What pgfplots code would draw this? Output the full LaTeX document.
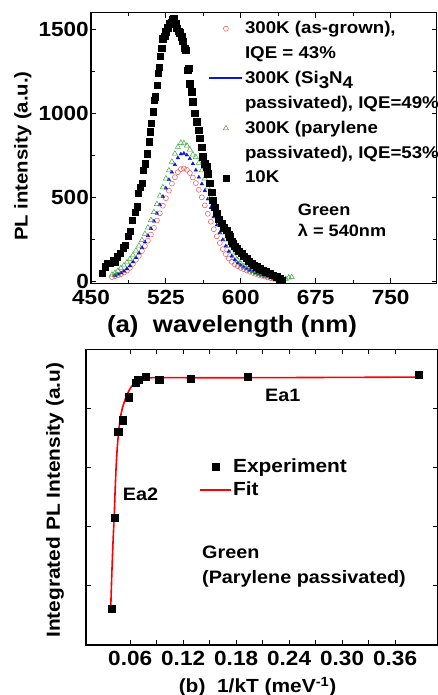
\documentclass[border=0pt]{standalone}
\usepackage{fontspec}
\setmainfont{Liberation Sans}[FakeStretch=1.1]
\usepackage{pgfplots}
\pgfplotsset{compat=1.18}
\definecolor{redc}{RGB}{235,85,85}
\definecolor{grnc}{RGB}{60,165,60}
\definecolor{bluc}{RGB}{10,20,225}

\begin{document}
\bfseries\fontsize{18}{21}\selectfont
\begin{tikzpicture}[x=1pt,y=1pt]
\path[use as bounding box] (0,0) rectangle (438,695);
% (a) PL spectra
\begin{axis}[
    at={(91pt,411.7pt)}, anchor=south west,
    scale only axis, width=345.5pt, height=270.6pt,
    xmin=450, xmax=796, ymin=-12, ymax=1600,
    xtick={450,525,600,675,750}, ytick={0,500,1000,1500},
    minor x tick num=1, minor y tick num=1,
    tick align=inside, major tick length=5pt, minor tick length=3.5pt,
    axis line style={line width=1.3pt},
    every tick/.style={black, line width=1pt},
    /pgf/number format/assume math mode=true,
    /pgf/number format/1000 sep={},
    tick label style={font=\bfseries\fontsize{20.5}{23}\selectfont},
    yticklabel style={xshift=4pt},
    xticklabel style={yshift=-1pt},
    xlabel={(a)\ \ wavelength (nm)},
    ylabel={PL intensity (a.u.)},
    every axis x label/.style={at={(axis description cs:0.408,-0.159)}, anchor=center,
                               font=\bfseries\fontsize{23.5}{26}\selectfont},
    every axis y label/.style={at={(axis description cs:-0.197,0.470)}, anchor=center, rotate=90,
                               font=\bfseries\fontsize{18.5}{21}\selectfont},
    legend cell align=left,
    legend style={draw=none, fill=none, at={(rel axis cs:0.339,0.975)}, anchor=north west,
                  font=\bfseries\fontsize{17}{20}\selectfont, row sep=7pt, inner sep=0pt,
                  nodes={inner sep=1.5pt}},
    legend image code/.code={\draw[mark repeat=2,mark phase=2,#1] plot coordinates {(0pt,0pt) (16.5pt,0pt) (33pt,0pt)};},
  ]
\addplot[only marks, mark=o, redc, mark size=2.5pt, mark options={line width=0.5pt}] coordinates {
(471,25) (474,30) (477,36) (480,43) (483,52) (486,64) (489,80) (492,104) (495,128) (498,152)
(501,180) (504,210) (507,242) (510,278) (513,318) (516,362) (519,405) (522,450) (525,495) (528,540)
(531,582) (534,620) (537,650) (540,668) (543,672) (546,664) (549,645) (552,618) (555,585) (558,545)
(561,500) (564,452) (567,402) (570,355) (573,310) (576,268) (579,228) (582,192) (585,162) (588,136)
(591,116) (594,101) (597,90) (600,80) (603,72) (606,64) (609,57) (612,50) (615,44) (618,38)
(621,33) (624,28) (627,23) (630,19) (633,15) (636,12) (639,9) (642,6)};
\addlegendentry{300K (as-grown),}
\addlegendimage{empty legend}
\addlegendentry{IQE = 43\%}
\addplot[only marks, mark=triangle*, bluc, mark size=2pt,
         legend image code/.code={\draw[bluc, line width=2.2pt] (0pt,0pt) -- (33pt,0pt);}] coordinates {
(474,35) (477,42) (480,50) (483,60) (486,74) (489,92) (492,115) (495,140) (498,168) (501,200)
(504,234) (507,272) (510,314) (513,358) (516,405) (519,455) (522,505) (525,555) (528,605) (531,650)
(534,695) (537,735) (540,758) (543,762) (546,752) (549,730) (552,700) (555,662) (558,620) (561,580)
(564,540) (567,490) (570,438) (573,385) (576,335) (579,290) (582,248) (585,210) (588,178) (591,150)
(594,128) (597,110) (600,96) (603,84) (606,74) (609,65) (612,57) (615,50) (618,43) (621,37)
(624,31) (627,26) (630,21) (633,17) (636,13) (639,10) (642,7)};
\addlegendentry{300K (Si\raisebox{-5pt}{3}N\raisebox{-5pt}{4}}
\addlegendimage{empty legend}
\addlegendentry{passivated), IQE=49\%}
\addplot[only marks, mark=triangle, grnc, mark size=3pt, mark options={line width=0.5pt}] coordinates {
(471,40) (474,50) (477,62) (480,78) (483,95) (486,112) (489,132) (492,155) (495,182) (498,212)
(501,245) (504,282) (507,320) (510,365) (513,412) (516,460) (519,510) (522,560) (525,612) (528,660)
(531,712) (534,760) (537,800) (540,825) (543,822) (546,808) (549,785) (552,755) (555,740) (558,705)
(561,660) (564,612) (567,560) (570,500) (573,440) (576,385) (579,335) (582,290) (585,248) (588,210)
(591,176) (594,148) (597,124) (600,105) (603,90) (606,78) (609,68) (612,60) (615,52) (618,46)
(621,40) (624,35) (627,30) (630,26) (633,22) (636,18) (639,15) (642,12) (645,14) (648,22) (651,25)};
\addlegendentry{300K (parylene}
\addlegendimage{empty legend}
\addlegendentry{passivated), IQE=53\%}
\addplot[only marks, mark=square*, black, mark size=3.2pt] coordinates {
(461,48) (464,87) (466,107) (469,107) (472,127) (474,117) (476,146) (479,167) (482,200) (484,216)
(487,270) (489,300) (491,365) (494,410) (496,444) (497,524) (499,560) (501,583) (502,663) (504,700)
(506,760) (508,831) (509,890) (510,940) (512,1010) (513,1079) (514,1099) (516,1168) (517,1240) (518,1277)
(519,1340) (521,1390) (522,1446) (524,1460) (525,1486) (527,1510) (529,1536) (531,1545) (532,1560) (533,1565)
(535,1535) (536,1506) (538,1490) (539,1480) (541,1456) (542,1430) (544,1390) (545,1377) (547,1258) (548,1268)
(549,1178) (551,1129) (552,1069) (554,1000) (556,950) (558,900) (559,851) (561,800) (562,742) (564,700)
(566,682) (567,640) (569,583) (571,530) (572,484) (574,440) (576,405) (578,370) (581,345) (583,320)
(586,305) (588,280) (589,265) (591,240) (592,226) (594,210) (596,196) (598,180) (601,167) (603,150)
(606,137) (608,120) (611,107) (613,95) (616,87) (619,75) (622,67) (625,58) (629,48) (632,38)
(636,27) (639,15) (641,8)};
\addlegendentry{10K}
\node[anchor=west, inner sep=0pt, font=\bfseries\fontsize{16.5}{20}\selectfont] at (axis cs:657,424.7) {Green};
\node[anchor=west, inner sep=0pt, font=\bfseries\fontsize{16.5}{20}\selectfont] at (axis cs:657,305.5) {λ = 540nm};
\end{axis}
% (b) Arrhenius plot
\begin{axis}[
    at={(86pt,50pt)}, anchor=south west,
    scale only axis, width=351.5pt, height=295.7pt,
    xmin=0.01, xmax=0.408, ymin=0, ymax=5,
    xtick={0.06,0.12,0.18,0.24,0.30,0.36}, ytick={1,2,3,4}, yticklabels={},
    minor x tick num=1,
    tick align=inside, major tick length=5pt, minor tick length=5pt,
    axis line style={line width=1.3pt},
    every tick/.style={black, line width=1pt},
    /pgf/number format/assume math mode=true,
    xticklabel style={/pgf/number format/.cd, fixed, fixed zerofill, precision=2},
    tick label style={font=\bfseries\fontsize{20.5}{23}\selectfont},
    xlabel={(b)\ \ 1/kT (meV\textsuperscript{-1})},
    ylabel={Integrated PL Intensity (a.u)},
    every axis x label/.style={at={(axis description cs:0.488,-0.142)}, anchor=center},
    every axis y label/.style={at={(axis description cs:-0.088,0.49)}, anchor=center, rotate=90},
    label style={font=\bfseries\fontsize{19}{22}\selectfont},
    legend cell align=left,
    legend style={draw=none, fill=none, at={(rel axis cs:0.321,0.637)}, anchor=north west,
                  font=\bfseries\fontsize{19}{22}\selectfont, row sep=4pt, inner sep=0pt,
                  nodes={inner sep=1.5pt}},
    legend image code/.code={\draw[mark repeat=2,mark phase=2,#1] plot coordinates {(0pt,0pt) (15.5pt,0pt) (31pt,0pt)};},
  ]
\addplot[only marks, mark=square*, black, mark size=3.6pt] coordinates {
(0.0387,0.62) (0.0422,2.15) (0.0464,3.60) (0.0516,3.80) (0.0580,4.19) (0.0663,4.44)
(0.0690,4.49) (0.0774,4.53) (0.0928,4.49) (0.1289,4.50) (0.1934,4.53) (0.3868,4.57)};
\addlegendentry{Experiment}
\addplot[red, line width=1.6pt, smooth] coordinates {
(0.0380,0.62) (0.0390,1.10) (0.0400,1.52) (0.0410,1.88) (0.0420,2.20) (0.0430,2.62)
(0.0440,2.98) (0.0455,3.36) (0.0475,3.68) (0.0500,3.93) (0.0525,4.07) (0.0555,4.20)
(0.0590,4.31) (0.0630,4.40) (0.0680,4.46) (0.0750,4.50) (0.0850,4.52) (0.1000,4.52)
(0.2000,4.52) (0.3870,4.53)};
\addlegendentry{Fit}
\node[anchor=west, inner sep=0pt] at (axis cs:0.2126,4.22) {Ea1};
\node[anchor=west, inner sep=0pt] at (axis cs:0.0515,2.55) {Ea2};
\node[anchor=west, inner sep=0pt] at (axis cs:0.1413,1.57) {Green};
\node[anchor=west, inner sep=0pt] at (axis cs:0.1413,1.127) {(Parylene passivated)};
\end{axis}
\end{tikzpicture}
\end{document}
